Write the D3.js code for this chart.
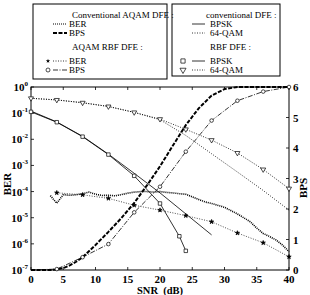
<!DOCTYPE html>
<html>
<head>
<meta charset="utf-8">
<script src="https://cdn.jsdelivr.net/npm/d3@7"></script>
<style>
  body { margin: 0; background: #fff; }
  svg { display: block; font-family: "Liberation Serif", "DejaVu Serif", serif; }
</style>
</head>
<body>
<svg id="chart" width="310" height="295"></svg>
<script>
// SNR axis (dB)
var xTicks = [0, 5, 10, 15, 20, 25, 30, 35, 40]
var berExps = [0, -1, -2, -3, -4, -5, -6, -7]
var bpsTicks = [0, 1, 2, 3, 4, 5, 6]

// conventional DFE, fixed modes (BER)
var convBpskSnr = [0, 4, 8, 12, 16, 20, 24, 28]
var convBpskBer = [1.2e-1, 4.6e-2, 1.3e-2, 2.7e-3, 5e-4, 8.9e-5, 1.4e-5, 2.2e-6]
var convQamSnr = [0, 4, 8, 12, 16, 20, 24, 28, 32, 36, 40]
var convQamBer = [3.7e-1, 3.2e-1, 2.5e-1, 1.8e-1, 1.07e-1, 5.6e-2, 1.4e-2, 2.8e-3, 5.6e-4, 1.1e-4, 1.95e-5]

// RBF DFE, fixed modes (BER)
var rbfBpskSnr = [0, 4, 8, 12, 16, 20, 23, 24]
var rbfBpskBer = [1.12e-1, 4.5e-2, 1.26e-2, 2.6e-3, 4e-4, 3.5e-5, 1.95e-6, 5.4e-7]
var rbfQamSnr = [0, 4, 8, 12, 16, 20, 24, 28, 32, 36, 40]
var rbfQamBer = [3.7e-1, 3.2e-1, 2.5e-1, 1.8e-1, 1.07e-1, 5.9e-2, 2.4e-2, 9.3e-3, 3e-3, 7e-4, 1.3e-4]

// conventional AQAM DFE
var aqamSnr = [3, 4, 5, 6, 7, 8, 9, 10, 11, 12, 13, 14, 15, 16, 17, 18, 19, 20, 21, 22, 23, 24,
               25, 26, 27, 28, 30, 32, 34, 35, 36, 37, 38, 39, 40]
var aqamBer = [7e-5, 3.6e-5, 7.6e-5, 7.2e-5, 7.6e-5, 8.3e-5, 9.5e-5, 7.9e-5, 7.1e-5, 7.2e-5,
               6.9e-5, 7.6e-5, 8.7e-5, 9.5e-5, 1e-4, 1e-4, 9.5e-5, 1e-4, 9.3e-5, 8.9e-5, 8.3e-5,
               7.9e-5, 6.3e-5, 5e-5, 4e-5, 3.5e-5, 2.5e-5, 1.4e-5, 7e-6, 4e-6, 2.5e-6, 1.9e-6,
               1.4e-6, 9e-7, 5e-7]
var aqamBpsSnr = [0, 3, 4, 5, 6, 7, 8, 10, 12, 14, 16, 18, 20, 22, 24, 26, 28, 30, 32, 34, 40]
var aqamBps = [0, 0, 0.02, 0.06, 0.15, 0.27, 0.42, 0.82, 1.25, 1.7, 2.2, 2.78, 3.4, 4.08,
               4.75, 5.3, 5.72, 5.93, 6, 6, 6]

// AQAM RBF DFE
var rbfAqamSnr = [4, 8, 12, 16, 20, 24, 28, 32, 36, 40]
var rbfAqamBer = [9e-5, 7.5e-5, 5.5e-5, 3e-5, 1.95e-5, 1.2e-5, 7e-6, 2.6e-6, 1.1e-6, 3.2e-7]
var rbfAqamBpsSnr = [0, 4, 8, 12, 16, 20, 24, 28, 32, 36, 40]
var rbfAqamBps = [0, 0.03, 0.42, 0.85, 1.89, 2.73, 3.88, 4.9, 5.55, 5.85, 6]

var svg = d3.select("#chart")
var pL = 31, pR = 289, pT = 87, pB = 270

var x = d3.scaleLinear().domain([0, 40]).range([pL, pR])
var y = d3.scaleLog().domain([1e-7, 1]).range([pB, pT])
var yr = d3.scaleLinear().domain([0, 6]).range([pB, pT])

function zip(a, b) { return a.map(function(v, i) { return [v, b[i]] }) }

var lineBer = d3.line().x(function(d) { return x(d[0]) }).y(function(d) { return y(d[1]) })
var lineBps = d3.line().x(function(d) { return x(d[0]) }).y(function(d) { return yr(d[1]) })

/* plot frame */
svg.append("rect").attr("x", pL).attr("y", pT)
    .attr("width", pR - pL).attr("height", pB - pT)
    .attr("fill", "none").attr("stroke", "#000").attr("stroke-width", 1)

// inward ticks
var tk = svg.append("g").attr("stroke", "#000").attr("stroke-width", 0.8)
xTicks.forEach(function(t) {
    tk.append("line").attr("x1", x(t)).attr("x2", x(t)).attr("y1", pB).attr("y2", pB - 3)
    tk.append("line").attr("x1", x(t)).attr("x2", x(t)).attr("y1", pT).attr("y2", pT + 3)
})
berExps.forEach(function(e) {
    tk.append("line").attr("x1", pL).attr("x2", pL + 3).attr("y1", y(Math.pow(10, e))).attr("y2", y(Math.pow(10, e)))
})
bpsTicks.forEach(function(t) {
    tk.append("line").attr("x1", pR).attr("x2", pR - 3).attr("y1", yr(t)).attr("y2", yr(t))
})

/* axis labels */
var lab = svg.append("g").attr("font-weight", "bold").attr("fill", "#000")
xTicks.forEach(function(t) {
    lab.append("text").attr("x", x(t)).attr("y", 283).attr("text-anchor", "middle")
        .attr("font-size", 11).text(t)
})
berExps.forEach(function(e) {
    var t = lab.append("text").attr("x", 28).attr("y", y(Math.pow(10, e)) + 4)
        .attr("text-anchor", "end").attr("font-size", 11)
    t.append("tspan").text("10")
    t.append("tspan").attr("dy", -5).attr("font-size", 7).text(e)
})
bpsTicks.forEach(function(t) {
    lab.append("text").attr("x", 293).attr("y", yr(t) + 4).attr("font-size", 11).text(t)
})
lab.append("text").attr("x", 160).attr("y", 294).attr("text-anchor", "middle")
    .attr("font-size", 10.5).attr("xml:space", "preserve").text("SNR  (dB)")
lab.append("text").attr("transform", "translate(11,184) rotate(-90)")
    .attr("text-anchor", "middle").attr("font-size", 11).text("BER")
lab.append("text").attr("transform", "translate(307,188) rotate(-90)")
    .attr("text-anchor", "middle").attr("font-size", 11).text("BPS")

/* data lines */
var g = svg.append("g").attr("fill", "none").attr("stroke", "#000")

g.append("path").attr("d", lineBer(zip(convBpskSnr, convBpskBer))).attr("stroke-width", 0.8)
g.append("path").attr("d", lineBer(zip(convQamSnr, convQamBer))).attr("stroke-width", 0.8)
    .attr("stroke-dasharray", "1,1.5")
g.append("path").attr("d", lineBer(zip(rbfBpskSnr, rbfBpskBer))).attr("stroke-width", 0.8)
g.append("path").attr("d", lineBer(zip(rbfQamSnr, rbfQamBer))).attr("stroke-width", 0.8)
    .attr("stroke-dasharray", "1,1.5")
g.append("path").attr("d", lineBer(zip(aqamSnr, aqamBer))).attr("stroke-width", 1.6)
    .attr("stroke-dasharray", "1,1")
g.append("path").attr("d", lineBps(zip(aqamBpsSnr, aqamBps))).attr("stroke-width", 2)
    .attr("stroke-dasharray", "4,1.5")
g.append("path").attr("d", lineBer(zip(rbfAqamSnr, rbfAqamBer))).attr("stroke-width", 0.7)
    .attr("stroke-dasharray", "1,1.5")
g.append("path").attr("d", lineBps(zip(rbfAqamBpsSnr, rbfAqamBps))).attr("stroke-width", 0.8)
    .attr("stroke-dasharray", "5,1.5,1,1.5")

/* markers */
var m = svg.append("g").attr("stroke", "#000").attr("stroke-width", 0.7).attr("fill", "#fff")
var sq = d3.symbol().type(d3.symbolSquare).size(12)
var tri = d3.symbol().type(d3.symbolTriangle).size(11)
var star = d3.symbol().type(d3.symbolStar).size(6)

zip(rbfBpskSnr, rbfBpskBer).forEach(function(d) {
    m.append("path").attr("d", sq()).attr("transform", "translate(" + x(d[0]) + "," + y(d[1]) + ")")
})
zip(rbfQamSnr, rbfQamBer).forEach(function(d) {
    m.append("path").attr("d", tri())
        .attr("transform", "translate(" + x(d[0]) + "," + y(d[1]) + ") rotate(180)")
})
zip(rbfAqamSnr, rbfAqamBer).forEach(function(d) {
    m.append("path").attr("d", star()).attr("fill", "#000")
        .attr("transform", "translate(" + x(d[0]) + "," + y(d[1]) + ")")
})
zip(rbfAqamBpsSnr, rbfAqamBps).slice(1).forEach(function(d) {
    m.append("circle").attr("cx", x(d[0])).attr("cy", yr(d[1])).attr("r", 1.8)
})

/* legends */
var lg = svg.append("g").attr("font-size", 9).attr("fill", "#000")
lg.append("rect").attr("x", 33).attr("y", 4).attr("width", 134).attr("height", 75)
    .attr("fill", "#fff").attr("stroke", "#000").attr("stroke-width", 1)
lg.append("rect").attr("x", 172).attr("y", 4).attr("width", 108).attr("height", 72)
    .attr("fill", "#fff").attr("stroke", "#000").attr("stroke-width", 1)

function sample(x1, x2, yy, w, dash) {
    var l = lg.append("line").attr("x1", x1).attr("x2", x2).attr("y1", yy).attr("y2", yy)
        .attr("stroke", "#000").attr("stroke-width", w)
    if (dash) l.attr("stroke-dasharray", dash)
}

lg.append("text").attr("x", 72).attr("y", 18).text("Conventional AQAM DFE :")
sample(53, 67, 24, 1.2, "1,1")
lg.append("text").attr("x", 69).attr("y", 27).text("BER")
sample(53, 67, 33, 2, "4,1.5")
lg.append("text").attr("x", 69).attr("y", 36).text("BPS")
lg.append("text").attr("x", 72).attr("y", 50).text("AQAM RBF DFE :")
lg.append("path").attr("d", star()).attr("transform", "translate(48,61)").attr("fill", "#000")
sample(53, 67, 61, 0.8, "1,1.5")
lg.append("text").attr("x", 69).attr("y", 64).text("BER")
lg.append("circle").attr("cx", 48).attr("cy", 70).attr("r", 2)
    .attr("fill", "#fff").attr("stroke", "#000").attr("stroke-width", 0.7)
sample(53, 67, 70, 0.8, "5,1.5,1,1.5")
lg.append("text").attr("x", 69).attr("y", 73).text("BPS")

lg.append("text").attr("x", 206).attr("y", 18).text("conventional DFE :")
sample(192, 205, 24, 0.8)
lg.append("text").attr("x", 210).attr("y", 27).text("BPSK")
sample(192, 205, 33, 0.8, "1,1.5")
lg.append("text").attr("x", 210).attr("y", 36).text("64-QAM")
lg.append("text").attr("x", 210).attr("y", 50).text("RBF DFE :")
lg.append("path").attr("d", d3.symbol().type(d3.symbolSquare).size(18)()).attr("transform", "translate(183,61)")
    .attr("fill", "#fff").attr("stroke", "#000").attr("stroke-width", 0.7)
sample(192, 205, 61, 0.8)
lg.append("text").attr("x", 210).attr("y", 64).text("BPSK")
lg.append("path").attr("d", d3.symbol().type(d3.symbolTriangle).size(16)())
    .attr("transform", "translate(183,70) rotate(180)")
    .attr("fill", "#fff").attr("stroke", "#000").attr("stroke-width", 0.7)
sample(192, 205, 70, 0.8, "1,1.5")
lg.append("text").attr("x", 210).attr("y", 73).text("64-QAM")
</script>
</body>
</html>
